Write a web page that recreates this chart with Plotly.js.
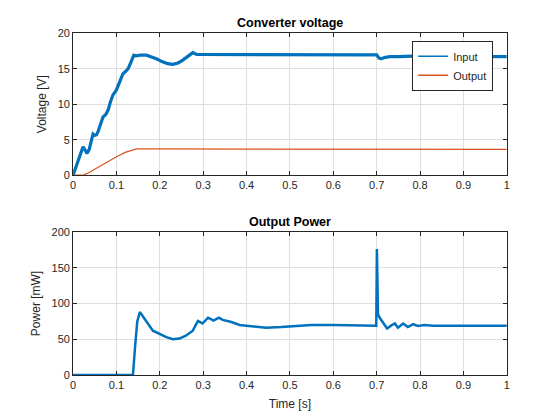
<!DOCTYPE html>
<html>
<head>
<meta charset="utf-8">
<script src="https://cdn.plot.ly/plotly-3.0.1.min.js"></script>
<style>html,body{margin:0;padding:0;background:#fff}#chart{width:560px;height:420px}</style>
</head>
<body>
<div id="chart"></div>
<script>
// Input voltage [V]
var tIn = [0, 0.01, 0.02, 0.023, 0.027, 0.032, 0.037, 0.042, 0.046, 0.05, 0.054, 0.058, 0.063, 0.069, 0.075, 0.081, 0.086, 0.092, 0.1, 0.107, 0.115, 0.121, 0.127, 0.134, 0.14, 0.145, 0.155, 0.169, 0.18, 0.192, 0.205, 0.218, 0.23, 0.242, 0.253, 0.265, 0.276, 0.285, 0.3, 0.35, 0.4, 0.45, 0.5, 0.55, 0.6, 0.65, 0.7, 0.705, 0.71, 0.72, 0.73, 0.75, 0.8, 0.85, 0.9, 0.95, 1.0];
var vIn = [0, 1.8, 3.6, 4.0, 3.6, 3.05, 3.6, 4.8, 5.8, 5.6, 5.7, 6.2, 7.2, 8.2, 8.5, 9.2, 10.3, 11.3, 12.0, 13.0, 14.3, 14.6, 15.0, 16.0, 16.9, 16.8, 16.9, 16.9, 16.7, 16.4, 16.0, 15.7, 15.6, 15.8, 16.2, 16.8, 17.25, 17.0, 17.0, 17.0, 16.95, 16.95, 16.95, 16.95, 16.95, 16.95, 16.95, 16.5, 16.4, 16.6, 16.7, 16.7, 16.8, 16.75, 16.75, 16.7, 16.7];
// Output voltage [V]
var tOut = [0, 0.025, 0.035, 0.046, 0.06, 0.08, 0.1, 0.12, 0.135, 0.146, 0.2, 0.3, 0.4, 0.5, 0.6, 0.699, 0.702, 0.8, 0.9, 1.0];
var vOut = [0, 0.05, 0.3, 0.7, 1.2, 1.9, 2.6, 3.2, 3.55, 3.7, 3.7, 3.7, 3.7, 3.7, 3.7, 3.7, 3.62, 3.62, 3.62, 3.62];
// Output power [mW]
var tP = [0, 0.138, 0.143, 0.148, 0.154, 0.16, 0.17, 0.184, 0.2, 0.215, 0.23, 0.245, 0.26, 0.276, 0.283, 0.288, 0.293, 0.298, 0.305, 0.311, 0.318, 0.324, 0.33, 0.336, 0.345, 0.353, 0.365, 0.384, 0.41, 0.445, 0.48, 0.52, 0.55, 0.6, 0.65, 0.699, 0.7005, 0.703, 0.707, 0.715, 0.724, 0.733, 0.742, 0.749, 0.761, 0.772, 0.784, 0.795, 0.81, 0.83, 0.9, 0.95, 1.0];
var pOut = [0, 0, 40, 75, 88, 82, 74, 62, 57, 53, 50, 51, 55, 62, 70, 75.6, 74, 72, 76, 80, 78, 76, 78, 80, 77, 76, 74, 70, 68, 66, 67, 69, 70, 70, 69.5, 69, 176, 85, 80, 72, 65, 69, 72, 66, 72, 67, 71, 68.5, 70, 69, 69, 69, 69];
var xTicks = [0, 0.1, 0.2, 0.3, 0.4, 0.5, 0.6, 0.7, 0.8, 0.9, 1];
var xTickText = ['0', '0.1', '0.2', '0.3', '0.4', '0.5', '0.6', '0.7', '0.8', '0.9', '1'];
var seriesNames = ['Input', 'Output'];

var blue = '#0072BD', orange = '#D95319', ink = '#262626', gridc = '#dfdfdf';
var fontFam = 'Liberation Sans, Arial, sans-serif';

var traces = [
  {x: tIn, y: vIn, name: seriesNames[0], type: 'scatter', mode: 'lines', line: {color: blue, width: 3.2}, xaxis: 'x', yaxis: 'y', showlegend: false},
  {x: tOut, y: vOut, name: seriesNames[1], type: 'scatter', mode: 'lines', line: {color: orange, width: 1.2}, xaxis: 'x', yaxis: 'y', showlegend: false},
  {x: tP, y: pOut, name: 'Power', type: 'scatter', mode: 'lines', line: {color: blue, width: 2.5}, xaxis: 'x2', yaxis: 'y2', showlegend: false},
  // legend entries (thin sample lines, as in the reference)
  {x: [null], y: [null], name: seriesNames[0], type: 'scatter', mode: 'lines', line: {color: blue, width: 1.5}, xaxis: 'x', yaxis: 'y'},
  {x: [null], y: [null], name: seriesNames[1], type: 'scatter', mode: 'lines', line: {color: orange, width: 1.5}, xaxis: 'x', yaxis: 'y'}
];

function xa(anchor, title) {
  var a = {anchor: anchor, domain: [0.1305, 0.905], range: [0, 1], tickvals: xTicks, ticktext: xTickText,
    showgrid: true, gridcolor: gridc, zeroline: false, showline: true, linecolor: ink, linewidth: 1,
    mirror: 'ticks', ticks: 'inside', ticklen: 4, tickcolor: ink, tickfont: {size: 11, color: ink, family: fontFam}};
  if (title) a.title = {text: title, font: {size: 12, color: ink, family: fontFam}, standoff: 9};
  return a;
}
function ya(anchor, dom, rng, dt, title) {
  return {anchor: anchor, domain: dom, range: rng, dtick: dt, tick0: 0,
    showgrid: true, gridcolor: gridc, zeroline: false, showline: true, linecolor: ink, linewidth: 1,
    mirror: 'ticks', ticks: 'inside', ticklen: 4, tickcolor: ink, tickfont: {size: 11, color: ink, family: fontFam},
    title: {text: title, font: {size: 12, color: ink, family: fontFam}, standoff: 8}};
}

var layout = {
  width: 560, height: 420,
  margin: {l: 0, r: 0, t: 0, b: 0},
  paper_bgcolor: '#ffffff', plot_bgcolor: '#ffffff',
  font: {family: fontFam, color: ink},
  xaxis: xa('y', null),
  yaxis: ya('x', [0.583, 0.921], [0, 20], 5, 'Voltage [V]'),
  xaxis2: xa('y2', 'Time [s]'),
  yaxis2: ya('x2', [0.107, 0.448], [0, 200], 50, 'Power [mW]'),
  showlegend: true,
  legend: {x: 0.736, y: 0.903, xanchor: 'left', yanchor: 'top', bgcolor: '#ffffff', bordercolor: ink, borderwidth: 1,
    font: {size: 11, color: ink, family: fontFam}, tracegroupgap: 0, itemwidth: 30},
  annotations: [
    {text: '<b>Converter voltage</b>', xref: 'paper', yref: 'paper', x: 0.5178, y: 0.921, xanchor: 'center', yanchor: 'bottom', yshift: 1, showarrow: false, font: {size: 12.5, color: '#000', family: fontFam}},
    {text: '<b>Output Power</b>', xref: 'paper', yref: 'paper', x: 0.5178, y: 0.448, xanchor: 'center', yanchor: 'bottom', yshift: 1, showarrow: false, font: {size: 12.5, color: '#000', family: fontFam}}
  ]
};

Plotly.newPlot('chart', traces, layout, {displayModeBar: false, staticPlot: true});
</script>
</body>
</html>
